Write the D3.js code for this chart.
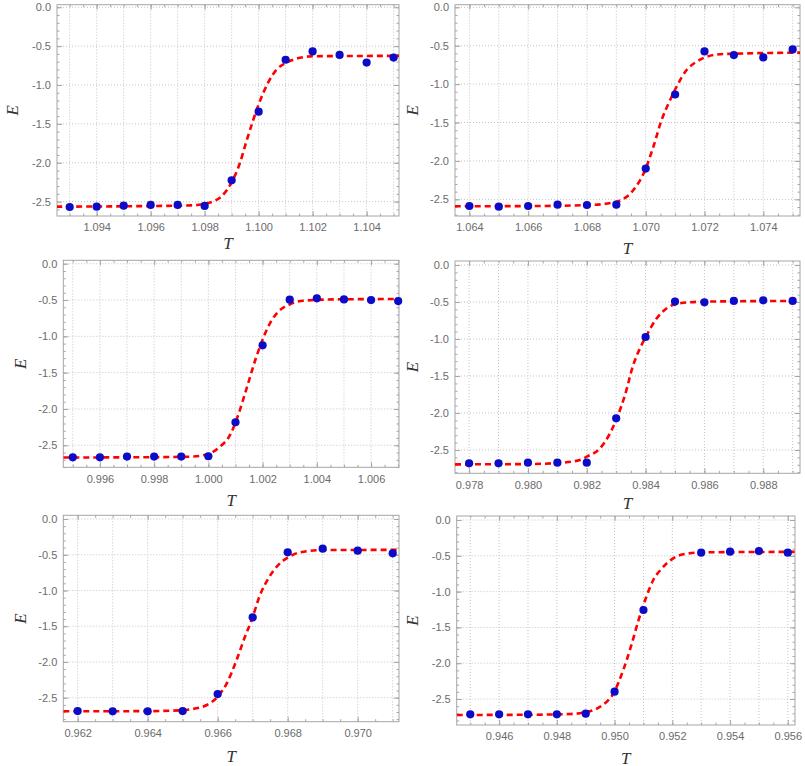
<!DOCTYPE html>
<html>
<head>
<meta charset="utf-8">
<script src="https://cdn.jsdelivr.net/npm/d3@7"></script>
<style>
  body { margin: 0; background: #fff; }
  svg { display: block; }
</style>
</head>
<body>
<div id="chart"></div>
<script>
// measured points (T, E) for each of the six runs
const t1 = [1.093, 1.094, 1.095, 1.096, 1.097, 1.098, 1.099, 1.100, 1.101, 1.102, 1.103, 1.104, 1.105];
const e1 = [-2.569, -2.565, -2.552, -2.543, -2.543, -2.555, -2.226, -1.343, -0.675, -0.568, -0.613, -0.711, -0.647];

const t2 = [1.064, 1.065, 1.066, 1.067, 1.068, 1.069, 1.070, 1.071, 1.072, 1.073, 1.074, 1.075];
const e2 = [-2.587, -2.596, -2.587, -2.570, -2.574, -2.570, -2.100, -1.135, -0.574, -0.622, -0.652, -0.548];

const t3 = [0.995, 0.996, 0.997, 0.998, 0.999, 1.000, 1.001, 1.002, 1.003, 1.004, 1.005, 1.006, 1.007];
const e3 = [-2.665, -2.665, -2.656, -2.656, -2.656, -2.651, -2.183, -1.124, -0.495, -0.477, -0.491, -0.500, -0.514];

const t4 = [0.978, 0.979, 0.980, 0.981, 0.982, 0.983, 0.984, 0.985, 0.986, 0.987, 0.988, 0.989];
const e4 = [-2.680, -2.680, -2.671, -2.671, -2.671, -2.072, -0.973, -0.495, -0.505, -0.486, -0.477, -0.486];

const t5 = [0.962, 0.963, 0.964, 0.965, 0.966, 0.967, 0.968, 0.969, 0.970, 0.971];
const e5 = [-2.687, -2.691, -2.691, -2.687, -2.449, -1.376, -0.466, -0.415, -0.443, -0.480];

const t6 = [0.945, 0.946, 0.947, 0.948, 0.949, 0.950, 0.951, 0.953, 0.954, 0.955, 0.956];
const e6 = [-2.714, -2.714, -2.714, -2.714, -2.705, -2.398, -1.257, -0.456, -0.442, -0.433, -0.456];

// fitted curves
const fitT1 = [1.0925, 1.095, 1.0975, 1.098, 1.0986, 1.0990, 1.0993, 1.09956, 1.0998, 1.1000, 1.10035, 1.10067, 1.10104, 1.10153, 1.102, 1.1053];
const fitE1 = [-2.565, -2.560, -2.548, -2.528, -2.440, -2.250, -2.010, -1.710, -1.450, -1.250, -0.970, -0.800, -0.710, -0.650, -0.630, -0.625];

const fitT2 = [1.0635, 1.066, 1.0681, 1.0690, 1.06958, 1.06998, 1.07026, 1.07054, 1.07083, 1.07105, 1.07139, 1.07173, 1.07202, 1.07264, 1.0753];
const fitE2 = [-2.590, -2.588, -2.574, -2.531, -2.379, -2.118, -1.815, -1.467, -1.207, -1.034, -0.816, -0.708, -0.651, -0.608, -0.590];

const fitT3 = [0.99465, 0.9975, 0.99932, 0.99999, 1.00043, 1.0008, 1.0011, 1.00141, 1.00173, 1.00197, 1.00227, 1.00258, 1.00301, 1.0035, 1.00487, 1.0071];
const fitE3 = [-2.668, -2.665, -2.657, -2.620, -2.519, -2.358, -2.083, -1.716, -1.326, -1.074, -0.820, -0.661, -0.559, -0.509, -0.490, -0.486];

const fitT4 = [0.97752, 0.980, 0.981, 0.98177, 0.982, 0.98245, 0.98279, 0.98302, 0.9833, 0.98358, 0.98381, 0.98404, 0.98438, 0.98472, 0.98517, 0.98596, 0.98925];
const fitE4 = [-2.694, -2.690, -2.676, -2.635, -2.590, -2.477, -2.275, -2.072, -1.757, -1.351, -1.126, -0.946, -0.720, -0.585, -0.518, -0.495, -0.485];

const fitT5 = [0.96159, 0.964, 0.965, 0.96521, 0.96569, 0.966, 0.96626, 0.96654, 0.96678, 0.96697, 0.96721, 0.96745, 0.96773, 0.968, 0.96835, 0.96902, 0.97118];
const fitE5 = [-2.690, -2.688, -2.675, -2.663, -2.602, -2.486, -2.299, -1.973, -1.647, -1.413, -1.063, -0.830, -0.644, -0.541, -0.466, -0.434, -0.432];

const fitT6 = [0.94453, 0.947, 0.94846, 0.94898, 0.9495, 0.94996, 0.9503, 0.9506, 0.95083, 0.95106, 0.95134, 0.95164, 0.95198, 0.95238, 0.95308, 0.95625];
const fitE6 = [-2.723, -2.720, -2.709, -2.686, -2.607, -2.420, -2.095, -1.722, -1.397, -1.117, -0.838, -0.675, -0.549, -0.479, -0.451, -0.445];

// tick labels
const xTicks1 = [1.094, 1.096, 1.098, 1.100, 1.102, 1.104];
const xTicks2 = [1.064, 1.066, 1.068, 1.070, 1.072, 1.074];
const xTicks3 = [0.996, 0.998, 1.000, 1.002, 1.004, 1.006];
const xTicks4 = [0.978, 0.980, 0.982, 0.984, 0.986, 0.988];
const xTicks5 = [0.962, 0.964, 0.966, 0.968, 0.970];
const xTicks6 = [0.946, 0.948, 0.950, 0.952, 0.954, 0.956];
const yTicks = [0, -0.5, -1.0, -1.5, -2.0, -2.5];

// plot ranges
const xDomains = [[1.09253, 1.10520], [1.06351, 1.07525], [0.99465, 1.00703], [0.97752, 0.98925], [0.96159, 0.97118], [0.94453, 0.95625]];
const yDomains = [[-2.685, 0.033], [-2.717, 0.034], [-2.803, 0.047], [-2.815, 0.054], [-2.836, 0.052], [-2.863, 0.056]];

// frame boxes on the page
const boxes = [
  { l: 57, t: 4.7, r: 399, b: 216, eX: 12.7, tY: 243 },
  { l: 455, t: 4.7, r: 800, b: 216, eX: 412.7, tY: 248 },
  { l: 63.3, t: 260.3, r: 399, b: 467.3, eX: 20.7, tY: 500 },
  { l: 455, t: 261, r: 800, b: 473.3, eX: 412.7, tY: 503 },
  { l: 63.3, t: 515.3, r: 399, b: 721.7, eX: 20.7, tY: 756 },
  { l: 456.7, t: 516, r: 795, b: 725, eX: 412.7, tY: 758 }
];

const runs = [
  [t1, e1, fitT1, fitE1, xTicks1],
  [t2, e2, fitT2, fitE2, xTicks2],
  [t3, e3, fitT3, fitE3, xTicks3],
  [t4, e4, fitT4, fitE4, xTicks4],
  [t5, e5, fitT5, fitE5, xTicks5],
  [t6, e6, fitT6, fitE6, xTicks6]
];

const frameColor = "#a6a6a6";
const labelColor = "#6b6b6b";
const gridColor = "#c4c4c4";
const tickFont = "Liberation Sans, Arial, sans-serif";
const mathFont = "Liberation Serif, Times New Roman, serif";

const svg = d3
  .select("#chart")
  .append("svg")
  .attr("width", 805)
  .attr("height", 766);

// values on a fixed step inside a domain (for grid / minor ticks)
const steps = (dom, step) => {
  const a = Math.ceil(dom[0] / step - 1e-6);
  const b = Math.floor(dom[1] / step + 1e-6);
  return d3.range(a, b + 1).map((k) => +(k * step).toFixed(6));
};

const styleAxis = (g) => {
  g.select(".domain").remove();
  g.selectAll("line").attr("stroke", frameColor);
  g.selectAll("text")
    .attr("fill", labelColor)
    .style("font-family", tickFont)
    .style("font-size", "11px");
};

runs.forEach(([ts, es, fts, fes, xTicks], i) => {
  const box = boxes[i];
  const x = d3.scaleLinear().domain(xDomains[i]).range([box.l, box.r]);
  const y = d3.scaleLinear().domain(yDomains[i]).range([box.b, box.t]);
  const g = svg.append("g");

  // dotted grid
  g.append("g")
    .selectAll("line")
    .data(steps(xDomains[i], 0.001))
    .join("line")
    .attr("x1", (d) => x(d))
    .attr("x2", (d) => x(d))
    .attr("y1", box.t)
    .attr("y2", box.b)
    .attr("stroke", gridColor)
    .attr("stroke-dasharray", "1,2");

  g.append("g")
    .selectAll("line")
    .data(yTicks)
    .join("line")
    .attr("x1", box.l)
    .attr("x2", box.r)
    .attr("y1", (d) => y(d))
    .attr("y2", (d) => y(d))
    .attr("stroke", gridColor)
    .attr("stroke-dasharray", "1,2");

  // frame ticks (inward, all four sides)
  const xMinor = steps(xDomains[i], 0.0005);
  const yMinor = steps(yDomains[i], 0.1);

  g.append("g")
    .attr("transform", "translate(0," + box.b + ")")
    .call(d3.axisBottom(x).tickValues(xMinor).tickFormat("").tickSize(-2.5))
    .call(styleAxis);
  g.append("g")
    .attr("transform", "translate(0," + box.b + ")")
    .call(d3.axisBottom(x).tickValues(xTicks).tickFormat(d3.format(".3f")).tickSize(-5).tickPadding(7.5))
    .call(styleAxis);
  g.append("g")
    .attr("transform", "translate(0," + box.t + ")")
    .call(d3.axisTop(x).tickValues(xMinor).tickFormat("").tickSize(-2.5))
    .call(styleAxis);
  g.append("g")
    .attr("transform", "translate(0," + box.t + ")")
    .call(d3.axisTop(x).tickValues(xTicks).tickFormat("").tickSize(-5))
    .call(styleAxis);

  g.append("g")
    .attr("transform", "translate(" + box.l + ",0)")
    .call(d3.axisLeft(y).tickValues(yMinor).tickFormat("").tickSize(-2.5))
    .call(styleAxis);
  g.append("g")
    .attr("transform", "translate(" + box.l + ",0)")
    .call(
      d3.axisLeft(y)
        .tickValues(yTicks)
        .tickFormat((d) => d3.format(".1f")(d).replace("\u2212", "-"))
        .tickSize(-5)
        .tickPadding(6)
    )
    .call(styleAxis);
  g.append("g")
    .attr("transform", "translate(" + box.r + ",0)")
    .call(d3.axisRight(y).tickValues(yMinor).tickFormat("").tickSize(-2.5))
    .call(styleAxis);
  g.append("g")
    .attr("transform", "translate(" + box.r + ",0)")
    .call(d3.axisRight(y).tickValues(yTicks).tickFormat("").tickSize(-5))
    .call(styleAxis);

  // frame
  g.append("rect")
    .attr("x", box.l)
    .attr("y", box.t)
    .attr("width", box.r - box.l)
    .attr("height", box.b - box.t)
    .attr("fill", "none")
    .attr("stroke", frameColor);

  // clip for the fitted curve
  g.append("clipPath")
    .attr("id", "clip" + i)
    .append("rect")
    .attr("x", box.l)
    .attr("y", box.t)
    .attr("width", box.r - box.l)
    .attr("height", box.b - box.t);

  const line = d3
    .line()
    .x((d) => x(d[0]))
    .y((d) => y(d[1]))
    .curve(d3.curveMonotoneX);

  g.append("path")
    .datum(d3.zip(fts, fes))
    .attr("clip-path", "url(#clip" + i + ")")
    .attr("d", line)
    .attr("fill", "none")
    .attr("stroke", "#ff0000")
    .attr("stroke-width", 2.6)
    .attr("stroke-dasharray", "6,4");

  g.append("g")
    .selectAll("circle")
    .data(d3.zip(ts, es))
    .join("circle")
    .attr("cx", (d) => x(d[0]))
    .attr("cy", (d) => y(d[1]))
    .attr("r", 4.1)
    .attr("fill", "#0b0bc8");

  // axis labels
  g.append("text")
    .attr("x", (box.l + box.r) / 2)
    .attr("y", box.tY)
    .attr("text-anchor", "middle")
    .attr("dominant-baseline", "central")
    .style("font-family", mathFont)
    .style("font-style", "italic")
    .style("font-size", "17px")
    .attr("fill", "#333")
    .text("T");

  g.append("text")
    .attr("transform", "translate(" + box.eX + "," + (box.t + box.b) / 2 + ") rotate(-90)")
    .attr("text-anchor", "middle")
    .attr("dominant-baseline", "central")
    .style("font-family", mathFont)
    .style("font-style", "italic")
    .style("font-size", "17px")
    .attr("fill", "#333")
    .text("E");
});
</script>
</body>
</html>
